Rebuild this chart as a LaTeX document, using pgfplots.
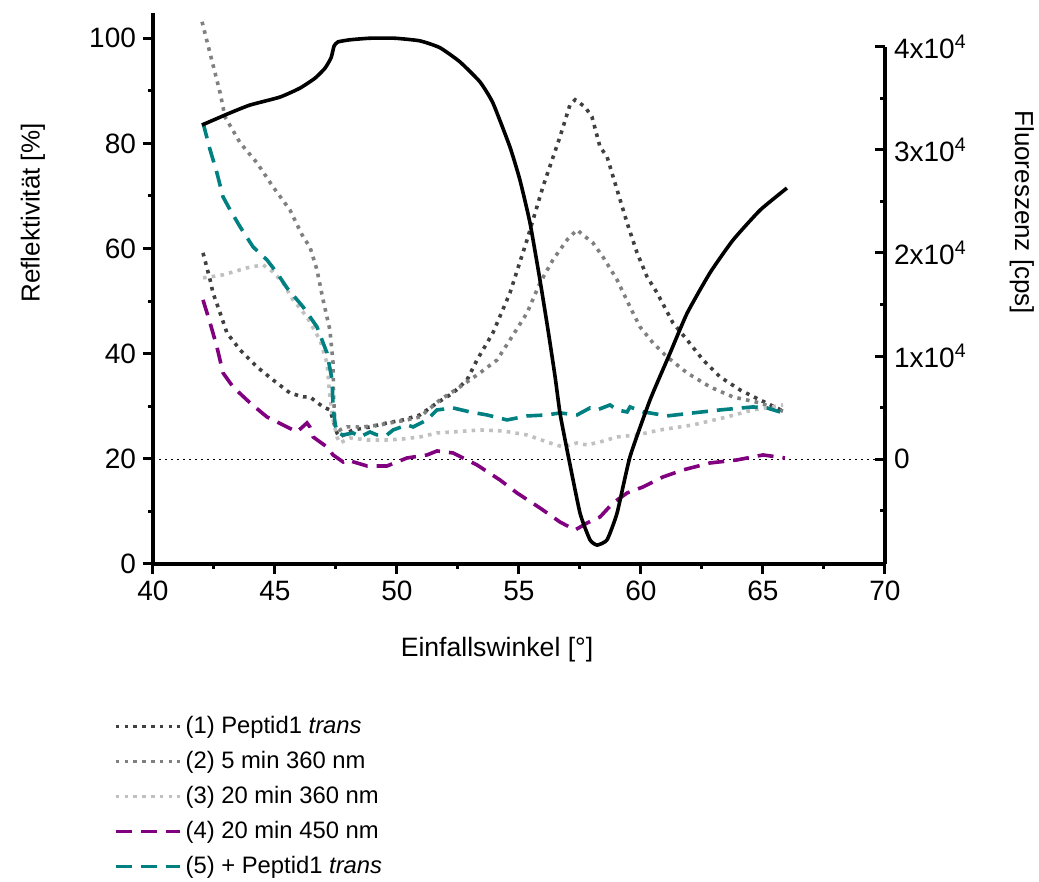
\documentclass[border=0pt]{standalone}
\usepackage{pgfplots}
\pgfplotsset{compat=1.18}
\usepackage{fontspec}
\setmainfont{Liberation Sans}
\definecolor{sOne}{HTML}{404040}
\definecolor{sTwo}{HTML}{808080}
\definecolor{sThree}{HTML}{C0C0C0}
\definecolor{sFour}{HTML}{800080}
\definecolor{sFive}{HTML}{008080}
\begin{document}
\begin{tikzpicture}
\path[use as bounding box] (-76.5pt,-159pt) rectangle (443pt,282pt);
% ---------- Fluorescence axis (right) ----------
\begin{axis}[
  at={(0pt,0pt)}, anchor=south west,
  scale only axis, width=366pt, height=258.65pt,
  xmin=40, xmax=70, ymin=-10155, ymax=40000,
  axis x line=none, axis y line*=right,
  axis line style={line width=1.6pt},
  scaled y ticks=false,
  ytick={0,10000,20000,30000,40000},
  yticklabels={0,{1x10\textsuperscript{4}},{2x10\textsuperscript{4}},{3x10\textsuperscript{4}},{4x10\textsuperscript{4}}},
  minor ytick={-5000,5000,15000,25000,35000},
  tick align=inside,
  major tick length=5pt, minor tick length=2.5pt,
  every tick/.style={line width=1.5pt, black},
  yticklabel style={font=\fontsize{14}{16}\selectfont, xshift=1pt},
  ylabel={Fluoreszenz [cps]},
  ylabel style={font=\fontsize{13}{15}\selectfont, at={(axis description cs:1.187,0.68)}, anchor=center, rotate=180},
  clip=false,
  legend style={draw=none, fill=none, at={(axis description cs:-0.062,-0.278)}, anchor=north west,
    font=\fontsize{11.9}{13.5}\selectfont, row sep=3.4pt, cells={anchor=west}},
  legend cell align=left,
  legend image code/.code={\draw[#1] (0pt,0pt) -- (32pt,0pt);},
]
\addplot[forget plot, black, line width=0.6pt, dash pattern=on 0.8pt off 2.2pt] coordinates {(40,0) (70,0)};
% (1) Peptid1 trans
\addplot[sOne, line width=1.8pt, dash pattern=on 1.8pt off 2.6pt] coordinates {
(42.05,20011) (42.34,17392) (42.46,16131) (42.75,14191) (43.03,12251) (43.57,10602) (44.26,8953) (44.92,7692) (45.61,6431) (46.15,6043) (46.43,6043) (46.97,5073) (47.25,4782) (47.38,3812) (47.54,2551) (47.66,2163) (48.20,2842) (48.89,3133) (49.59,3521) (50.25,3812) (50.94,4297) (51.64,5461) (52.30,6431) (52.87,7692) (53.28,9632) (53.93,12251) (54.63,16131) (55.33,21272) (55.98,26413) (56.68,31263) (57.09,34367) (57.30,34852) (57.70,34173) (57.99,33203) (58.32,30293) (58.61,29323) (59.02,26122) (59.43,22921) (59.84,20011) (60.25,17683) (60.66,16131) (61.31,13221) (61.89,11572) (62.54,9632) (63.24,7983) (64.06,6722) (64.88,5752) (65.90,4588)};
\addlegendentry{(1) Peptid1 \textit{trans}}
% (2) 5 min 360 nm
\addplot[sTwo, line width=1.8pt, dash pattern=on 1.8pt off 2.6pt] coordinates {
(42.01,42418) (42.75,35531) (42.95,33203) (43.57,30681) (44.26,28741) (44.92,26413) (45.61,24182) (46.15,21563) (46.43,20593) (46.72,18362) (46.97,15452) (47.25,12542) (47.38,9341) (47.40,6043) (47.46,3327) (47.66,2842) (47.95,3133) (48.61,3133) (49.30,3327) (49.71,3521) (50.41,3812) (50.94,4103) (51.76,5752) (52.58,7013) (53.40,8371) (54.10,9632) (54.63,11572) (55.33,14191) (55.86,17101) (56.39,19332) (56.97,21272) (57.38,22242) (57.62,21757) (58.03,20981) (58.44,19623) (59.02,17392) (59.55,14773) (59.96,12833) (60.49,11281) (61.07,9923) (61.89,8371) (62.83,7013) (63.77,6043) (64.88,5461) (65.90,4588)};
\addlegendentry{(2) 5 min 360 nm}
% (3) 20 min 360 nm
\addplot[sThree, line width=1.8pt, dash pattern=on 1.8pt off 2.6pt] coordinates {
(42.05,17586) (42.87,17877) (43.85,18556) (44.51,18847) (44.92,18168) (45.33,17101) (45.74,15452) (46.31,13803) (46.84,11572) (47.13,9341) (47.25,6043) (47.38,3812) (47.54,2163) (47.66,1581) (48.07,2066) (48.77,1872) (49.59,1872) (50.25,1969) (50.94,2163) (51.64,2551) (52.30,2648) (53.40,2842) (54.34,2745) (55.33,2357) (56.27,1581) (56.80,1193) (57.38,1581) (57.79,1387) (58.32,1678) (59.02,2163) (59.84,2357) (60.78,2842) (62.13,3327) (63.52,4103) (64.59,4782) (65.82,5267)};
\addlegendentry{(3) 20 min 360 nm}
% (4) 20 min 450 nm
\addplot[sFour, line width=1.8pt, dash pattern=on 8pt off 4.5pt] coordinates {
(42.05,15452) (42.34,13221) (42.62,10893) (42.87,8371) (43.28,7013) (43.98,5461) (44.67,4103) (45.49,3133) (45.90,2648) (46.31,3521) (46.43,3133) (46.56,2163) (47.13,1193) (47.38,417) (47.79,-262) (47.95,-68) (48.77,-650) (49.59,-650) (50.41,126) (51.23,417) (51.64,805) (52.30,611) (53.28,-553) (54.22,-2008) (54.92,-3269) (55.86,-4724) (56.68,-6082) (57.30,-6858) (57.79,-6179) (58.32,-5597) (58.85,-4239) (59.43,-3269) (60.08,-2687) (60.90,-1717) (61.72,-1038) (62.83,-359) (63.93,-68) (65.00,417) (65.90,126)};
\addlegendentry{(4) 20 min 450 nm}
% (5) + Peptid1 trans
\addplot[sFive, line width=1.8pt, dash pattern=on 8pt off 4.5pt] coordinates {
(42.05,32621) (42.34,30002) (42.62,27771) (42.87,25443) (43.16,24182) (43.57,22533) (44.10,20593) (44.67,19332) (45.08,18071) (45.49,16616) (46.15,14773) (46.72,12833) (47.13,10311) (47.34,7692) (47.38,5073) (47.46,3521) (47.54,2551) (47.79,2357) (48.20,2551) (48.48,2163) (48.89,2648) (49.18,2357) (49.59,2357) (49.84,2842) (50.41,3327) (50.66,3133) (51.23,3812) (51.64,4782) (52.30,4976) (52.99,4588) (53.69,4297) (54.51,3812) (55.33,4200) (56.15,4297) (56.68,4491) (57.38,4297) (57.91,4976) (58.20,4782) (58.73,5267) (59.02,4782) (59.43,4588) (59.55,5073) (60.08,4588) (60.37,4491) (61.07,4200) (62.13,4491) (63.24,4782) (64.59,5073) (65.16,4976) (65.70,4588)};
\addlegendentry{(5) + Peptid1 \textit{trans}}
\end{axis}
% ---------- Reflectivity axis (left/bottom) ----------
\begin{axis}[
  at={(0pt,0pt)}, anchor=south west,
  scale only axis, width=366pt, height=275.5pt,
  xmin=40, xmax=70, ymin=0, ymax=104.8,
  axis x line*=bottom, axis y line*=left,
  axis line style={line width=1.6pt},
  xtick={40,45,...,70}, minor xtick={42.5,47.5,...,67.5},
  ytick={0,20,...,100}, minor ytick={10,30,...,90},
  tick align=outside,
  major tick length=5pt, minor tick length=2.5pt,
  every tick/.style={line width=1.5pt, black},
  /pgf/number format/assume math mode=true,
  ticklabel style={font=\fontsize{14}{16}\selectfont},
  xlabel={Einfallswinkel [°]},
  ylabel={Reflektivität [\%]},
  xlabel style={font=\fontsize{13.3}{15}\selectfont, at={(axis description cs:0.47,-0.156)}, anchor=center},
  ylabel style={font=\fontsize{13}{15}\selectfont, at={(axis description cs:-0.164,0.637)}, anchor=center},
  clip=false,
]
\addplot[black, line width=1.8pt, smooth, tension=0.3] coordinates {
(42.01,83.5) (43.16,85.8) (43.98,87.3) (45.2,88.8) (46.02,90.5) (46.64,92.4) (47.05,94.3) (47.30,96.3) (47.42,98.5) (47.58,99.3) (48.07,99.7) (48.89,100.0) (49.92,100.0) (50.94,99.5) (51.76,98.2) (52.58,95.5) (53.40,91.7) (53.93,87.7) (54.63,79.3) (55.04,73.0) (55.45,64.9) (55.86,54.0) (56.19,44.5) (56.48,35.6) (56.68,28.7) (56.97,21.7) (57.50,9.7) (57.91,4.6) (58.20,3.6) (58.61,4.6) (59.02,9.7) (59.55,20.4) (60.37,31.2) (61.19,40.1) (61.89,47.7) (62.83,55.4) (63.77,61.6) (64.88,67.3) (65.98,71.5)};
\end{axis}
\end{tikzpicture}
\end{document}
